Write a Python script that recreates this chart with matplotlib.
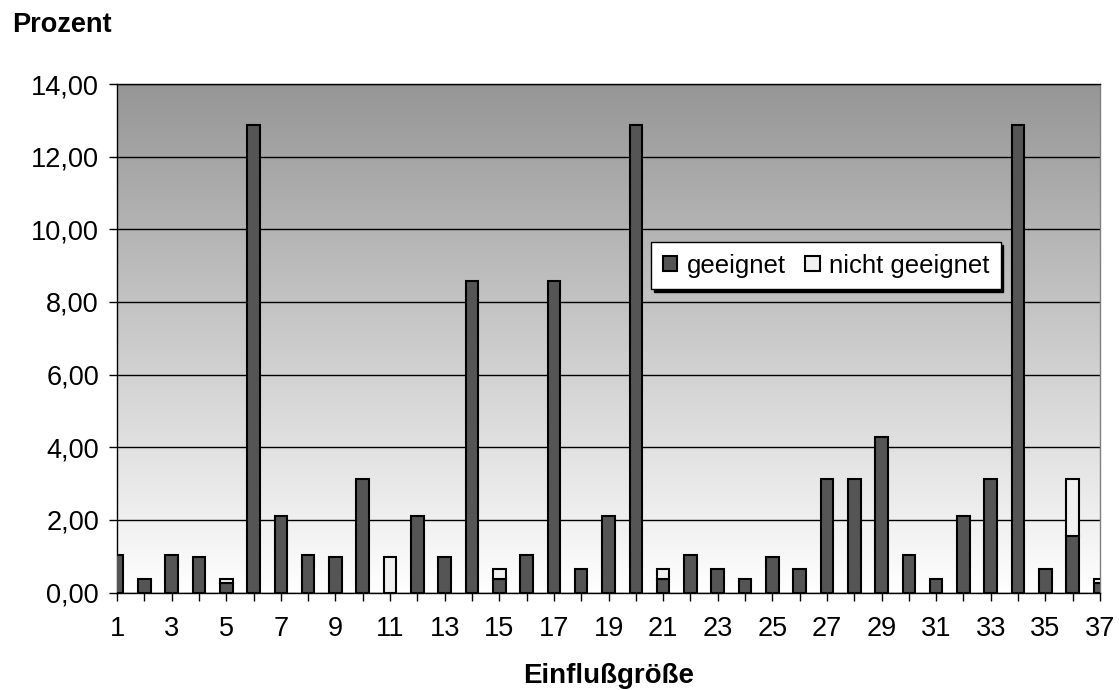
import numpy as np
import matplotlib
matplotlib.use("Agg")
import matplotlib.pyplot as plt
from matplotlib.ticker import FuncFormatter, FixedLocator

plt.rcParams['font.family'] = ['Liberation Sans', 'DejaVu Sans']

# Einflußgrößen 1..37
kategorien = list(range(1, 38))

geeignet = [1.03, 0.36, 1.03, 0.98, 0.26, 12.86, 2.11, 1.03, 0.98, 3.12,
            0.00, 2.11, 0.98, 8.57, 0.36, 1.03, 8.57, 0.64, 2.11, 12.86,
            0.36, 1.03, 0.64, 0.36, 0.98, 0.64, 3.12, 3.12, 4.29, 1.03,
            0.36, 2.11, 3.12, 12.86, 0.64, 1.55, 0.26]

nicht_geeignet = [0.00, 0.00, 0.00, 0.00, 0.10, 0.00, 0.00, 0.00, 0.00, 0.00,
                  0.98, 0.00, 0.00, 0.00, 0.28, 0.00, 0.00, 0.00, 0.00, 0.00,
                  0.28, 0.00, 0.00, 0.00, 0.00, 0.00, 0.00, 0.00, 0.00, 0.00,
                  0.00, 0.00, 0.00, 0.00, 0.00, 1.57, 0.10]

y_ticks = [0, 2, 4, 6, 8, 10, 12, 14]

W, H = 1119, 690
fig = plt.figure(figsize=(W / 100, H / 100), dpi=100)
ax = fig.add_axes([117 / W, 1 - 592.5 / H, (1100 - 117) / W, (592.5 - 84) / H])

# vertical gray-to-white gradient in the plot area
grad = np.linspace(0, 1, 256).reshape(-1, 1)
ax.imshow(grad, cmap=matplotlib.colors.LinearSegmentedColormap.from_list(
    'g', ['#ffffff', '#969696']), aspect='auto', extent=(0, 1, 0, 1),
    transform=ax.transAxes, zorder=0, origin='lower')

x = np.array(kategorien)
g = np.array(geeignet)
n = np.array(nicht_geeignet)
bar_w = 0.46
ax.bar(x, g, width=bar_w, color='#555555', edgecolor='black', linewidth=1.5,
       label='geeignet', zorder=3)
mask = n > 0
ax.bar(x[mask], n[mask], bottom=g[mask], width=bar_w, color='#f0f0f0',
       edgecolor='black', linewidth=1.5, label='nicht geeignet', zorder=3)

ax.set_xlim(1, 37)
ax.set_ylim(0, 14)
ax.yaxis.set_major_locator(FixedLocator(y_ticks))
ax.yaxis.set_major_formatter(FuncFormatter(lambda v, p: f"{v:.2f}".replace('.', ',')))
ax.xaxis.set_major_locator(FixedLocator(kategorien))
ax.set_xticklabels([str(k) if k % 2 == 1 else '' for k in kategorien])

ax.set_axisbelow(True)
ax.yaxis.grid(True, color='black', linewidth=1.0, zorder=1)

for s in ['left', 'bottom', 'top']:
    ax.spines[s].set_color('black')
    ax.spines[s].set_linewidth(1.0)
ax.spines['right'].set_color('#808080')
ax.spines['right'].set_linewidth(1.0)

ax.tick_params(axis='both', direction='out', length=6, width=1.0,
               color='black', labelsize=19.5)
ax.tick_params(axis='y', pad=7)
ax.tick_params(axis='x', pad=11)

fig.text(12 / W, 1 - 25 / H, 'Prozent', fontsize=19.5, fontweight='bold',
         ha='left', va='center')
fig.text(608.5 / W, 1 - 676 / H, 'Einflußgröße', fontsize=20, fontweight='bold',
         ha='center', va='center')

leg = ax.legend(loc='upper left', bbox_to_anchor=(651 / W, 1 - 242 / H),
                bbox_transform=fig.transFigure, ncol=2, fontsize=18.5,
                frameon=True, fancybox=False, framealpha=1,
                edgecolor='black', borderpad=0.45, handlelength=0.58,
                handleheight=0.58, handletextpad=0.35, columnspacing=0.75,
                borderaxespad=0,
                shadow={'color': 'black', 'alpha': 1})
leg.get_frame().set_linewidth(1.0)
leg.set_zorder(10)

fig.savefig('out.png', dpi=100)
